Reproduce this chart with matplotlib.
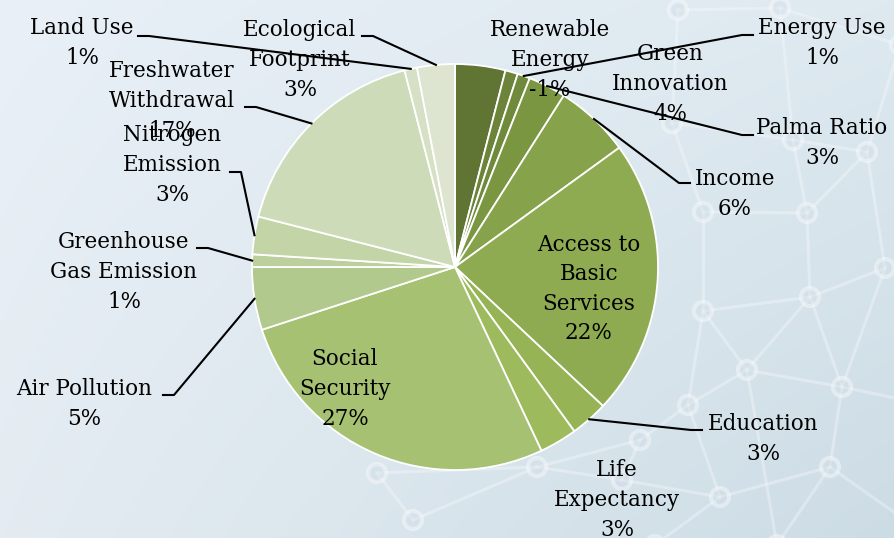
import numpy as np
import matplotlib
matplotlib.use("Agg")
import matplotlib.pyplot as plt
from matplotlib.patches import Circle

# shares of the sustainability indicators (percent), clockwise from 12 o'clock
categories = [
    "Green\nInnovation", "Renewable\nEnergy", "Energy Use", "Palma Ratio", "Income",
    "Access to\nBasic\nServices", "Education", "Life\nExpectancy", "Social\nSecurity",
    "Air Pollution", "Greenhouse\nGas Emission", "Nitrogen\nEmission",
    "Freshwater\nWithdrawal", "Land Use", "Ecological\nFootprint",
]
values = [4, -1, 1, 3, 6, 22, 3, 3, 27, 5, 1, 3, 17, 1, 3]

colors = [
    "#607434", "#6c843a", "#708a3c", "#7b9641", "#86a24a", "#8fab51", "#96b355",
    "#9dbb5c", "#a6c172", "#b2c98d", "#bccf9d", "#c3d4a7", "#cedbb9", "#d5e0c4",
    "#dde5d1",
]

# label block centres in pixel space and where their leader stub begins
label_pos = [
    (670, 84), (550, 60), (822, 43), (822, 143), (735, 194),
    (589, 289), (763, 439), (617, 500), (345, 389),
    (84, 404), (124, 272), (172, 165),
    (172, 101), (82, 43), (300, 60),
]
leaders = {
    2: (753, 35, -1), 3: (753, 135, -1), 4: (690, 183, -1), 6: (702, 430, -1),
    9: (163, 395, 1), 10: (197, 248, 1), 11: (230, 172, 1), 12: (245, 107, 1),
    13: (138, 36, 1), 14: (362, 36, 1),
}

W, H = 895, 538
cx, cy, radius = 455, 267, 203

fig = plt.figure(figsize=(W / 100, H / 100), dpi=100)
ax = fig.add_axes([0, 0, 1, 1])

# soft blue-grey background gradient
tl, tr = np.array([233, 240, 247]), np.array([222, 233, 240])
bl, br = np.array([228, 236, 242]), np.array([204, 220, 229])
u = np.linspace(0, 1, 200)[None, :, None]
v = np.linspace(0, 1, 120)[:, None, None]
grad = (tl * (1 - u) * (1 - v) + tr * u * (1 - v) + bl * (1 - u) * v + br * u * v) / 255
ax.imshow(grad, extent=(0, W, H, 0), zorder=0, interpolation="bilinear")

# faint network motif behind the pie
nodes = {
    "A": (678, 10), "B": (672, 123), "C": (793, 140), "D": (867, 152), "E": (703, 212),
    "F": (807, 213), "G": (885, 268), "H": (703, 311), "I": (810, 297), "J": (747, 370),
    "K": (842, 387), "L": (688, 405), "M": (830, 467), "N": (720, 497), "O": (777, 545),
    "P": (537, 467), "Q": (622, 480), "R": (377, 473), "S": (413, 520), "T": (780, 8),
    "U": (900, 45), "V": (905, 400), "X": (905, 520), "Y": (640, 440), "Z": (655, 545),
}
edges = ["AB", "AT", "TU", "TC", "BC", "CD", "UD", "BE", "CF", "EF", "FD", "DG", "EH",
         "FI", "HI", "GI", "HJ", "IJ", "IK", "JK", "JL", "HL", "GK", "KV", "KM", "JO",
         "MN", "MO", "MX", "LN", "NZ", "LY", "YQ", "QN", "PQ", "PS", "RS", "RP", "PY"]
for a, b in edges:
    (x1, y1), (x2, y2) = nodes[a], nodes[b]
    ax.plot([x1, x2], [y1, y2], color="white", lw=2.2, alpha=0.3, zorder=1)
for x, y in nodes.values():
    ax.add_patch(Circle((x, y), 9, facecolor="#d0dee7", edgecolor="white",
                        lw=3, alpha=0.4, zorder=1))

sizes = np.abs(values)
wedges, _ = ax.pie(sizes, colors=colors, startangle=270, counterclock=True,
                   center=(cx, cy), radius=radius, frame=True,
                   wedgeprops=dict(edgecolor="white", linewidth=1.3))
for w in wedges:
    w.set_zorder(2)
ax.set_xlim(0, W)
ax.set_ylim(H, 0)
ax.set_aspect("equal")
ax.axis("off")

font = dict(family="DejaVu Serif", fontsize=15.5, color="black")
for i, (name, val) in enumerate(zip(categories, values)):
    x, y = label_pos[i]
    ax.text(x, y, f"{name}\n{val}%", ha="center", va="center",
            linespacing=1.45, zorder=5, **font)
    if i in leaders:
        sx, sy, d = leaders[i]
        th = np.deg2rad((wedges[i].theta1 + wedges[i].theta2) / 2)
        ex, ey = cx + radius * np.cos(th), cy + radius * np.sin(th)
        ax.plot([sx, sx + 11 * d, ex], [sy, sy, ey], color="black", lw=1.5, zorder=4)

fig.savefig("out.png", dpi=100)
